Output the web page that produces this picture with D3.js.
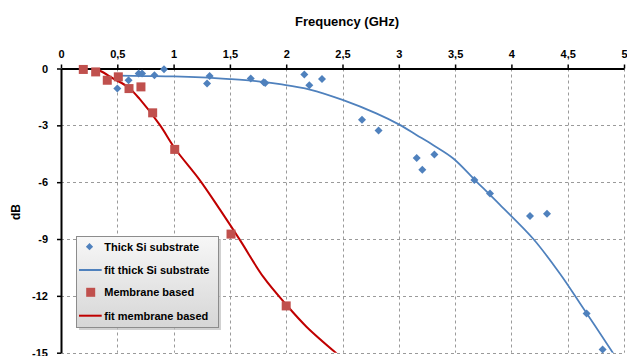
<!DOCTYPE html>
<html><head><meta charset="utf-8">
<script src="https://cdn.jsdelivr.net/npm/d3@7"></script>
<style>html,body{margin:0;padding:0;background:#fff;}svg{display:block;font-family:"Liberation Sans",Arial,sans-serif;}</style>
</head><body>
<svg id="c" width="627" height="356"></svg>
<script>
const xTicks = [0, 0.5, 1, 1.5, 2, 2.5, 3, 3.5, 4, 4.5, 5];
const yTicks = [0, -3, -6, -9, -12, -15];
const fmt = v => String(v).replace(".", ",");

const thickX = [0.50, 0.60, 0.69, 0.72, 0.83, 0.915, 1.297, 1.32, 1.685, 1.80, 1.814, 2.161, 2.205, 2.318, 2.673, 2.82, 3.159, 3.209, 3.316, 3.671, 3.81, 4.165, 4.316, 4.668, 4.81];
const thickY = [-1.06, -0.62, -0.26, -0.26, -0.35, -0.04, -0.79, -0.40, -0.53, -0.72, -0.77, -0.32, -0.88, -0.55, -2.71, -3.27, -4.73, -5.35, -4.54, -5.89, -6.60, -7.78, -7.67, -12.93, -14.83];

const fitThickX = [0.5, 0.75, 1.0, 1.25, 1.5, 1.75, 1.945, 2.21, 2.507, 2.80, 3.0, 3.16, 3.307, 3.484, 3.677, 3.899, 4.195, 4.43, 4.61, 4.905];
const fitThickY = [-0.38, -0.40, -0.42, -0.47, -0.56, -0.68, -0.83, -1.11, -1.67, -2.37, -2.95, -3.52, -4.05, -4.75, -5.89, -7.2, -9.0, -10.82, -12.4, -15.04];

const membX = [0.198, 0.308, 0.411, 0.509, 0.604, 0.71, 0.814, 1.01, 1.51, 2.0];
const membY = [-0.05, -0.18, -0.62, -0.44, -1.06, -0.97, -2.34, -4.27, -8.74, -12.53];

const fitMembX = [0.29, 0.346, 0.465, 0.60, 0.70, 0.879, 1.012, 1.234, 1.412, 1.59, 1.797, 2.004, 2.182, 2.448];
const fitMembY = [0, -0.12, -0.53, -1.0, -1.62, -2.99, -4.22, -5.9, -7.45, -9.06, -11.0, -12.49, -13.64, -15.04];

const legendLabels = ["Thick Si substrate", "fit thick Si substrate", "Membrane based", "fit membrane based"];

const blue = "#4F81BD", red = "#C0504D", redLine = "#C00000";

const svg = d3.select("#c");
const x = d3.scaleLinear().domain([0, 5]).range([61, 624]);
const y = d3.scaleLinear().domain([-15, 0]).range([352.7, 68.5]);

svg.append("defs").append("clipPath").attr("id", "plot")
  .append("rect").attr("x", x(0)).attr("y", y(0)).attr("width", x(5) - x(0)).attr("height", y(-15) - y(0));

// grid
const grid = svg.append("g").attr("stroke", "#9a9a9a").attr("stroke-width", 1).attr("stroke-dasharray", "3,3");
xTicks.filter(d => d > 0).forEach(d => {
  grid.append("line").attr("x1", Math.round(x(d)) + 0.5).attr("x2", Math.round(x(d)) + 0.5)
    .attr("y1", y(0)).attr("y2", y(-15));
});
yTicks.filter(d => d < 0).forEach(d => {
  grid.append("line").attr("x1", x(0)).attr("x2", x(5))
    .attr("y1", Math.round(y(d)) + 0.5).attr("y2", Math.round(y(d)) + 0.5);
});

// axes
const xAxis = d3.axisTop(x).tickValues(xTicks).tickFormat(fmt).tickSizeInner(4).tickSizeOuter(0);
const gx = svg.append("g").attr("transform", `translate(0,${y(0)})`).call(xAxis);
gx.select(".domain").attr("stroke", "#000").attr("stroke-width", 2);
gx.selectAll(".tick line").attr("stroke", "#000").attr("stroke-width", 1.5);
gx.selectAll(".tick text").attr("font-size", 11).attr("font-weight", "bold").attr("fill", "#000")
  .attr("font-family", '"Liberation Sans",Arial,sans-serif').attr("y", -11);

const yAxis = d3.axisLeft(y).tickValues(yTicks).tickFormat(d => String(d)).tickSizeInner(4).tickSizeOuter(0);
const gy = svg.append("g").attr("transform", `translate(${x(0)},0)`).call(yAxis);
gy.select(".domain").attr("stroke", "#000").attr("stroke-width", 2);
gy.selectAll(".tick line").attr("stroke", "#000").attr("stroke-width", 1.5);
gy.selectAll(".tick text").attr("font-size", 11).attr("font-weight", "bold").attr("fill", "#000")
  .attr("font-family", '"Liberation Sans",Arial,sans-serif').attr("x", -13);

// titles
svg.append("text").attr("x", 347).attr("y", 26).attr("text-anchor", "middle")
  .attr("font-size", 13).attr("font-weight", "bold").text("Frequency (GHz)");
svg.append("text").attr("transform", "translate(20,212) rotate(-90)").attr("text-anchor", "middle")
  .attr("font-size", 12).attr("font-weight", "bold").text("dB");

const plot = svg.append("g").attr("clip-path", "url(#plot)");
const line = d3.line().x(d => x(d[0])).y(d => y(d[1])).curve(d3.curveCatmullRom.alpha(0.5));

plot.append("path").datum(d3.zip(fitThickX, fitThickY)).attr("d", line)
  .attr("fill", "none").attr("stroke", blue).attr("stroke-width", 1.75);
plot.append("path").datum(d3.zip(fitMembX, fitMembY)).attr("d", line)
  .attr("fill", "none").attr("stroke", redLine).attr("stroke-width", 2);

const diamond = d3.symbol().type(d3.symbolSquare).size(32);
svg.append("g").selectAll("path").data(d3.zip(thickX, thickY)).join("path")
  .attr("d", diamond())
  .attr("transform", d => `translate(${x(d[0])},${y(d[1])}) rotate(45)`)
  .attr("fill", blue);

svg.append("g").selectAll("rect").data(d3.zip(membX, membY)).join("rect")
  .attr("x", d => x(d[0]) - 4.5).attr("y", d => y(d[1]) - 4.5)
  .attr("width", 9).attr("height", 9).attr("fill", red);

// legend
const defs = svg.select("defs");
const grad = defs.append("linearGradient").attr("id", "lg").attr("x1", 0).attr("y1", 0).attr("x2", 0).attr("y2", 1);
grad.append("stop").attr("offset", "0%").attr("stop-color", "#f7f7f7");
grad.append("stop").attr("offset", "100%").attr("stop-color", "#d6d6d6");

const lg = svg.append("g").attr("transform", "translate(76,236)");
lg.append("rect").attr("x", 3).attr("y", 3).attr("width", 142).attr("height", 91).attr("fill", "#bdbdbd").attr("opacity", 0.7);
lg.append("rect").attr("x", 0.5).attr("y", 0.5).attr("width", 142).attr("height", 91)
  .attr("fill", "url(#lg)").attr("stroke", "#8c8c8c").attr("stroke-width", 1);

const rowY = [10.7, 34, 56.3, 79.7];
legendLabels.forEach((t, i) => {
  lg.append("text").attr("x", 28.3).attr("y", rowY[i]).attr("dy", "0.35em")
    .attr("font-size", 11).attr("font-weight", "bold").attr("fill", "#000").text(t);
});
lg.append("path").attr("d", d3.symbol().type(d3.symbolSquare).size(26)())
  .attr("transform", `translate(13.5,${rowY[0]}) rotate(45)`).attr("fill", blue);
lg.append("line").attr("x1", 3).attr("x2", 25.7).attr("y1", rowY[1]).attr("y2", rowY[1])
  .attr("stroke", blue).attr("stroke-width", 2);
lg.append("rect").attr("x", 14.7 - 4.5).attr("y", rowY[2] - 4.5).attr("width", 9).attr("height", 9).attr("fill", red);
lg.append("line").attr("x1", 3).attr("x2", 25.7).attr("y1", rowY[3]).attr("y2", rowY[3])
  .attr("stroke", redLine).attr("stroke-width", 2);
</script>
</body></html>
